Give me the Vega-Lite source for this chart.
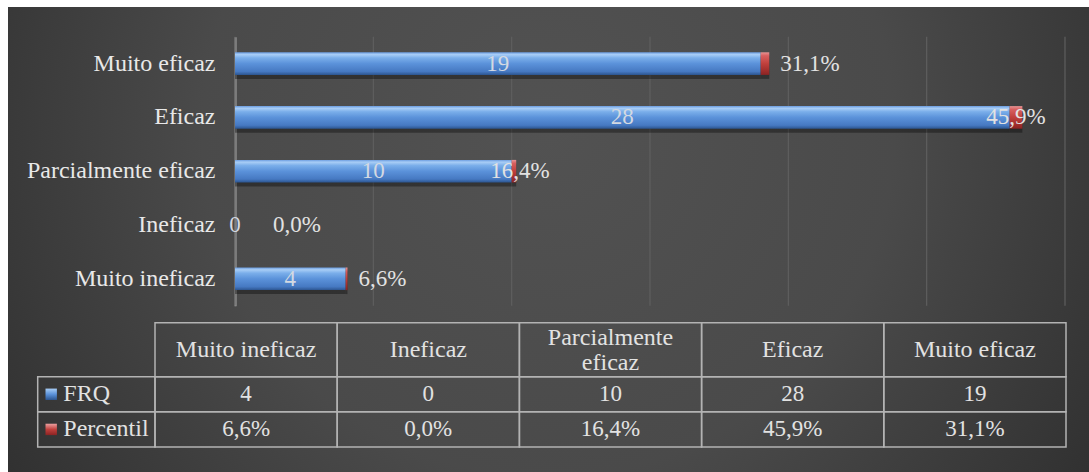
{
  "$schema": "https://vega.github.io/schema/vega-lite/v6.json",
  "width": 1089,
  "height": 472,
  "autosize": {"type": "fit", "contains": "padding"},
  "padding": {"left": 8, "top": 7, "right": 0, "bottom": 0},
  "background": "#ffffff",
  "config": {
    "font": "Liberation Serif, DejaVu Serif, serif",
    "view": {
      "stroke": null,
      "fill": {"gradient": "radial", "x1": 0.5, "y1": 0.4, "r1": 0, "x2": 0.5, "y2": 0.4, "r2": 0.8,
        "stops": [{"offset": 0, "color": "#525252"}, {"offset": 0.4, "color": "#4a4a4a"}, {"offset": 1, "color": "#1e1e1e"}]}
    },
    "locale": {"number": {"decimal": ",", "thousands": ".", "grouping": [3], "currency": ["", " €"]}}
  },
  "datasets": {
    "d": [
      {"cat": "Muito ineficaz", "head": "Muito ineficaz", "FRQ": 4, "Percentil": 0.066},
      {"cat": "Ineficaz", "head": "Ineficaz", "FRQ": 0, "Percentil": 0.0},
      {"cat": "Parcialmente eficaz", "head": ["Parcialmente", "eficaz"], "FRQ": 10, "Percentil": 0.164},
      {"cat": "Eficaz", "head": "Eficaz", "FRQ": 28, "Percentil": 0.459},
      {"cat": "Muito eficaz", "head": "Muito eficaz", "FRQ": 19, "Percentil": 0.311}
    ],
    "grid": [{"g": 0}, {"g": 5}, {"g": 10}, {"g": 15}, {"g": 20}, {"g": 25}, {"g": 30}]
  },
  "data": {"name": "d"},
  "resolve": {"scale": {"x": "independent", "y": "independent"}},
  "layer": [
    {
      "data": {"name": "grid"},
      "mark": {"type": "rule", "color": "#5f5f5f", "strokeWidth": 1.2},
      "encoding": {
        "x": {"field": "g", "type": "quantitative", "scale": {"domain": [0, 30], "range": [227, 1057], "nice": false}, "axis": null},
        "y": {"datum": 0, "type": "quantitative", "scale": {"domain": [0, 1], "range": [29.7, 298.7], "nice": false, "zero": false}, "axis": null},
        "y2": {"datum": 1}
      }
    },
    {
      "transform": [{"fold": ["FRQ", "Percentil"], "as": ["serie", "value"]}],
      "encoding": {
        "y": {
          "field": "cat", "type": "nominal",
          "scale": {"domain": ["Muito eficaz", "Eficaz", "Parcialmente eficaz", "Ineficaz", "Muito ineficaz"], "range": [29.7, 298.7], "paddingInner": 0.58, "paddingOuter": 0.29},
          "axis": {"title": null, "offset": -227, "domainColor": "#a9a9a9", "domainWidth": 2, "ticks": false, "tickSize": 0, "labelPadding": 20, "labelLimit": 400, "labelFontSize": 24, "labelColor": "#e8e8e8", "labelFont": "Liberation Serif, DejaVu Serif, serif", "grid": false}
        },
        "x": {
          "field": "value", "type": "quantitative", "stack": "zero",
          "scale": {"domain": [0, 30], "range": [227, 1057], "nice": false},
          "axis": null
        },
        "detail": {"field": "serie"},
        "order": {"field": "serie"}
      },
      "layer": [
        {
          "mark": {"type": "bar", "yOffset": 4, "fill": "#000000", "opacity": 0.35}
        },
        {
          "mark": {"type": "bar"},
          "encoding": {
            "fill": {
              "condition": {"test": "datum.serie === 'FRQ'", "value": {"gradient": "linear", "x1": 0, "y1": 0, "x2": 0, "y2": 1,
                "stops": [{"offset": 0, "color": "#6c9de0"}, {"offset": 0.1, "color": "#a8cdf6"}, {"offset": 0.25, "color": "#7aaeea"}, {"offset": 0.5, "color": "#5b92da"}, {"offset": 0.85, "color": "#4679c2"}, {"offset": 1, "color": "#2c5590"}]}},
              "value": {"gradient": "linear", "x1": 0, "y1": 0, "x2": 0, "y2": 1,
                "stops": [{"offset": 0, "color": "#e79494"}, {"offset": 0.15, "color": "#d86060"}, {"offset": 0.5, "color": "#c0403c"}, {"offset": 1, "color": "#8c2323"}]}
            }
          }
        },
        {
          "mark": {"type": "text", "font": "Liberation Serif, DejaVu Serif, serif", "fontSize": 23, "color": "#d3d9e2", "baseline": "middle", "align": "center"},
          "encoding": {
            "x": {"field": "value", "type": "quantitative", "stack": "zero", "bandPosition": 0.5},
            "text": {"condition": {"test": "datum.serie === 'FRQ'", "field": "value", "type": "quantitative", "format": "d"}, "value": ""}
          }
        },
        {
          "mark": {"type": "text", "font": "Liberation Serif, DejaVu Serif, serif", "fontSize": 23, "color": "#e2e2e2", "baseline": "middle", "align": "left",
            "dx": {"expr": "datum.value_end > 27 ? -36 : (datum.value_end < 1 ? 38 : ((datum.value_end > 9 && datum.value_end < 11) ? -26 : 11))"}},
          "encoding": {
            "text": {"condition": {"test": "datum.serie === 'Percentil'", "field": "value", "type": "quantitative", "format": ".1%"}, "value": ""}
          }
        }
      ]
    },
    {
      "encoding": {
        "x": {"field": "cat", "type": "nominal", "scale": {"domain": ["Muito ineficaz", "Ineficaz", "Parcialmente eficaz", "Eficaz", "Muito eficaz"], "range": [147, 1058], "paddingInner": 0, "paddingOuter": 0}, "axis": null},
        "y": {"datum": "h", "type": "nominal", "scale": {"domain": ["h"], "range": [315.7, 369.7], "paddingInner": 0, "paddingOuter": 0}, "axis": null}
      },
      "layer": [
        {"mark": {"type": "rect", "fill": "#000000", "fillOpacity": 0, "stroke": "#b3b3b3", "strokeWidth": 1.5}},
        {"transform": [{"filter": "!isArray(datum.head)"}],
         "mark": {"type": "text", "font": "Liberation Serif, DejaVu Serif, serif", "fontSize": 24, "color": "#e2e2e2", "baseline": "middle", "align": "center"},
         "encoding": {"text": {"field": "head", "type": "nominal"}}},
        {"transform": [{"filter": "isArray(datum.head)"}],
         "mark": {"type": "text", "font": "Liberation Serif, DejaVu Serif, serif", "fontSize": 24, "color": "#e2e2e2", "baseline": "middle", "align": "center", "lineHeight": 25, "dy": -12},
         "encoding": {"text": {"field": "head", "type": "nominal"}}}
      ]
    },
    {
      "transform": [{"fold": ["FRQ", "Percentil"], "as": ["serie", "value"]}],
      "encoding": {
        "x": {"field": "cat", "type": "nominal", "scale": {"domain": ["Muito ineficaz", "Ineficaz", "Parcialmente eficaz", "Eficaz", "Muito eficaz"], "range": [147, 1058], "paddingInner": 0, "paddingOuter": 0}, "axis": null},
        "y": {"field": "serie", "type": "nominal", "scale": {"domain": ["FRQ", "Percentil"], "range": [369.7, 440], "paddingInner": 0, "paddingOuter": 0}, "axis": null}
      },
      "layer": [
        {"mark": {"type": "rect", "fill": "#000000", "fillOpacity": 0, "stroke": "#b3b3b3", "strokeWidth": 1.5}},
        {"mark": {"type": "text", "font": "Liberation Serif, DejaVu Serif, serif", "fontSize": 23, "color": "#e2e2e2", "baseline": "middle", "align": "center"},
         "encoding": {"text": {"condition": {"test": "datum.serie === 'FRQ'", "field": "value", "type": "quantitative", "format": "d"}, "field": "value", "type": "quantitative", "format": ".1%"}}}
      ]
    },
    {
      "transform": [
        {"fold": ["FRQ", "Percentil"], "as": ["serie", "value"]},
        {"aggregate": [{"op": "count", "as": "n"}], "groupby": ["serie"]}
      ],
      "encoding": {
        "x": {"datum": "lbl", "type": "nominal", "scale": {"domain": ["lbl"], "range": [29.7, 147], "paddingInner": 0, "paddingOuter": 0}, "axis": null},
        "y": {"field": "serie", "type": "nominal", "scale": {"domain": ["FRQ", "Percentil"], "range": [369.7, 440], "paddingInner": 0, "paddingOuter": 0}, "axis": null}
      },
      "layer": [
        {"mark": {"type": "rect", "fill": "#000000", "fillOpacity": 0, "stroke": "#b3b3b3", "strokeWidth": 1.5}},
        {"mark": {"type": "point", "shape": "square", "filled": true, "size": 130, "xOffset": -45.15, "strokeWidth": 0, "opacity": 1},
         "encoding": {
           "fill": {
             "condition": {"test": "datum.serie === 'FRQ'", "value": {"gradient": "linear", "x1": 0, "y1": 0, "x2": 0, "y2": 1,
               "stops": [{"offset": 0, "color": "#a8cdf6"}, {"offset": 0.5, "color": "#5b92da"}, {"offset": 1, "color": "#2c5590"}]}},
             "value": {"gradient": "linear", "x1": 0, "y1": 0, "x2": 0, "y2": 1,
               "stops": [{"offset": 0, "color": "#eba0a0"}, {"offset": 0.5, "color": "#c0403c"}, {"offset": 1, "color": "#8c2323"}]}
           }
         }},
        {"mark": {"type": "text", "font": "Liberation Serif, DejaVu Serif, serif", "fontSize": 24, "color": "#e2e2e2", "baseline": "middle", "align": "left", "dx": -33.05},
         "encoding": {"text": {"field": "serie", "type": "nominal"}}}
      ]
    }
  ]
}
